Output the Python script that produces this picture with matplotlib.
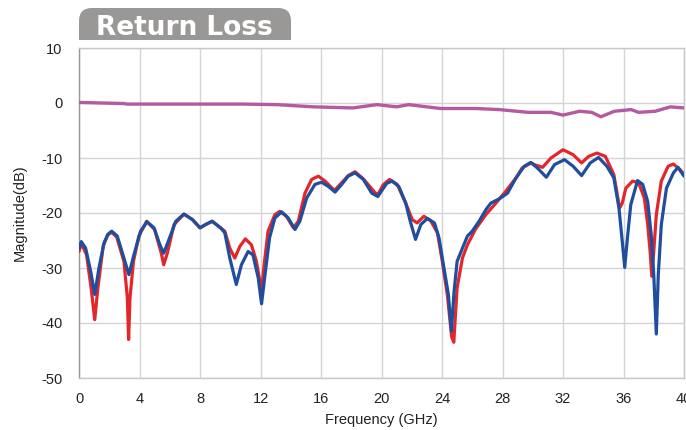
import matplotlib
matplotlib.use("Agg")
import matplotlib.pyplot as plt
from matplotlib.path import Path
from matplotlib.patches import PathPatch

# ---------------- data ----------------
blue_f = [0.0, 0.15, 0.44, 0.77, 1.04, 1.32, 1.65, 1.9, 2.16, 2.53, 2.97, 3.3, 3.63, 4.07, 4.5,
          4.96, 5.35, 5.6, 5.95, 6.4, 6.94, 7.5, 8.0, 8.37, 8.8, 9.36, 9.64, 9.97, 10.4, 10.74,
          11.18, 11.5, 11.85, 12.07, 12.3, 12.6, 12.95, 13.4, 13.83, 14.28, 14.6, 15.05, 15.6,
          16.04, 16.5, 16.93, 17.37, 17.8, 18.25, 18.8, 19.36, 19.76, 20.1, 20.35, 20.7, 21.15,
          21.6, 21.9, 22.25, 22.6, 23.03, 23.5, 23.8, 24.13, 24.42, 24.62, 24.8, 25.0, 25.35,
          25.68, 26.0, 26.45, 26.9, 27.23, 27.8, 28.33, 28.9, 29.44, 29.87, 30.3, 30.9, 31.44,
          32.1, 32.67, 33.23, 33.8, 34.35, 34.9, 35.36, 35.7, 35.92, 36.08, 36.26, 36.48, 36.93,
          37.27, 37.6, 37.83, 38.0, 38.17, 38.3, 38.5, 38.84, 39.3, 39.6, 40.0]
blue_db = [-26.5, -25.2, -26.4, -30.6, -34.8, -30.0, -25.5, -23.9, -23.3, -24.2, -28.2, -31.2,
           -27.6, -23.3, -21.6, -22.7, -25.8, -27.3, -24.8, -21.5, -20.2, -21.2, -22.7, -22.1,
           -21.5, -22.7, -23.6, -28.2, -33.0, -29.4, -27.0, -27.6, -31.8, -36.5, -31.2, -24.5,
           -20.9, -19.8, -20.9, -23.0, -21.5, -17.3, -14.8, -14.4, -15.2, -16.2, -14.8, -13.3,
           -12.7, -13.9, -16.4, -17.0, -15.6, -14.6, -14.2, -15.2, -18.2, -21.5, -24.8, -22.1,
           -21.0, -21.8, -24.5, -30.0, -34.8, -41.5, -34.2, -28.8, -26.4, -24.2, -23.3, -21.5,
           -19.4, -18.2, -17.4, -16.4, -13.6, -11.5, -10.8, -11.8, -13.5, -11.2, -10.3, -11.5,
           -13.2, -10.9, -9.9, -11.5, -13.6, -19.1, -25.2, -29.9, -24.5, -18.5, -14.1, -14.8,
           -17.9, -23.9, -31.2, -42.0, -31.2, -22.1, -15.5, -12.7, -11.7, -13.3]

red_f = [0.0, 0.15, 0.5, 0.8, 1.04, 1.25, 1.6, 1.9, 2.16, 2.5, 2.97, 3.2, 3.28, 3.37, 3.6,
         3.96, 4.47, 5.0, 5.44, 5.6, 5.84, 6.28, 6.94, 7.5, 8.0, 8.37, 8.8, 9.36, 9.64, 9.97,
         10.3, 10.63, 11.0, 11.4, 11.73, 12.07, 12.24, 12.5, 12.95, 13.28, 13.72, 14.17, 14.5,
         14.94, 15.38, 15.82, 16.27, 16.88, 17.37, 17.8, 18.25, 18.8, 19.6, 19.8, 20.1, 20.53,
         21.04, 21.6, 22.03, 22.36, 22.8, 23.25, 23.7, 24.02, 24.35, 24.64, 24.78, 25.0, 25.35,
         25.68, 26.2, 26.9, 27.56, 28.2, 28.9, 29.3, 29.9, 30.1, 30.65, 31.2, 32.0, 32.67,
         33.23, 33.7, 34.24, 34.8, 35.36, 35.74, 35.92, 36.15, 36.6, 37.0, 37.38, 37.6, 37.76,
         37.87, 38.0, 38.17, 38.5, 38.95, 39.3, 39.74, 40.0]
red_db = [-27.0, -25.5, -27.6, -33.6, -39.4, -33.6, -26.0, -24.0, -23.5, -24.4, -28.8, -35.5,
          -43.0, -35.5, -28.8, -24.2, -21.5, -23.0, -27.3, -29.4, -27.3, -22.1, -20.2, -21.2,
          -22.7, -22.1, -21.5, -22.7, -23.3, -26.4, -28.2, -26.1, -24.7, -25.8, -28.8, -34.2,
          -29.4, -23.3, -20.3, -19.7, -20.6, -22.7, -21.5, -16.4, -13.9, -13.3, -14.2, -15.9,
          -14.5, -13.2, -12.5, -13.8, -16.4, -16.5, -14.9, -13.9, -14.8, -18.2, -21.2, -21.8,
          -20.6, -21.4, -23.6, -28.8, -34.8, -42.5, -43.5, -33.6, -28.2, -25.8, -23.0, -20.3,
          -18.2, -16.1, -13.6, -11.8, -10.9, -11.2, -11.7, -10.0, -8.5, -9.4, -10.9, -9.7, -9.1,
          -9.7, -13.0, -19.1, -18.2, -15.5, -14.2, -14.5, -17.3, -22.1, -27.0, -31.5, -27.0,
          -20.3, -14.2, -11.5, -11.1, -12.1, -13.0]

purple_f = [0.0, 3.0, 3.15, 7.9, 10.8, 13.1, 15.5, 18.1, 19.7, 21.0, 21.8, 23.9, 26.2, 27.8,
            29.7, 31.2, 32.0, 33.1, 33.9, 34.5, 35.4, 36.5, 37.0, 38.1, 39.1, 40.0]
purple_db = [0.1, -0.1, -0.2, -0.2, -0.2, -0.3, -0.7, -0.9, -0.3, -0.7, -0.3, -1.0, -1.0, -1.2,
             -1.7, -1.7, -2.2, -1.5, -1.7, -2.5, -1.5, -1.2, -1.7, -1.5, -0.7, -0.9]

x_ticks = [0, 4, 8, 12, 16, 20, 24, 28, 32, 36, 40]
y_ticks = [10, 0, -10, -20, -30, -40, -50]
title_text = "Return Loss"
x_label = "Frequency (GHz)"
y_label = "Magnitude(dB)"

# ---------------- figure ----------------
W, H = 686, 430
plt.rcParams['font.family'] = ['Liberation Sans', 'DejaVu Sans']
plt.rcParams['axes.unicode_minus'] = False
fig = plt.figure(figsize=(W / 100, H / 100), dpi=100)

ax = fig.add_axes([79 / W, 1 - 378 / H, (684 - 79) / W, (378 - 48) / H])
ax.set_xlim(0, 40)
ax.set_ylim(-50, 10)
ax.set_xticks(x_ticks)
ax.set_yticks(y_ticks)
ax.grid(True, color="#d4d4d4", linewidth=1.0)
ax.set_axisbelow(True)
for s in ax.spines.values():
    s.set_color("#c8c8c8")
    s.set_linewidth(1.0)
ax.spines["left"].set_color("#999999")
ax.tick_params(axis="both", length=0, labelsize=10.5, colors="#222222")
ax.tick_params(axis="y", pad=12)
ax.tick_params(axis="x", pad=10)
ax.set_xlabel(x_label, fontsize=10.5, color="#222222", labelpad=5)
ax.set_ylabel(y_label, fontsize=10.5, color="#222222", labelpad=10)

style = dict(solid_joinstyle="round", solid_capstyle="round")
ax.plot(purple_f, purple_db, color="#b45aa0", linewidth=2.4, zorder=3, **style)
ax.plot(red_f, red_db, color="#e3262b", linewidth=2.3, zorder=3, **style)
ax.plot(blue_f, blue_db, color="#1f4e9e", linewidth=2.3, zorder=4, **style)

# ---------------- title tab ----------------
def fp(x, y):
    return (x / W, 1 - y / H)

L, R, T, B, r = 79, 291, 8, 40, 13
verts = [fp(L, B), fp(L, T + r), fp(L, T), fp(L + r, T), fp(R - r, T), fp(R, T),
         fp(R, T + r), fp(R, B), fp(L, B)]
codes = [Path.MOVETO, Path.LINETO, Path.CURVE3, Path.CURVE3, Path.LINETO, Path.CURVE3,
         Path.CURVE3, Path.LINETO, Path.CLOSEPOLY]
tab = PathPatch(Path(verts, codes), transform=fig.transFigure, facecolor="#9a9896",
                edgecolor="none")
fig.patches.append(tab)
fig.text(184.5 / W, 1 - 35 / H, title_text, transform=fig.transFigure, ha="center",
         va="baseline", fontsize=19, fontweight="bold", color="white", family="DejaVu Sans")

fig.savefig("out.png", dpi=100)
